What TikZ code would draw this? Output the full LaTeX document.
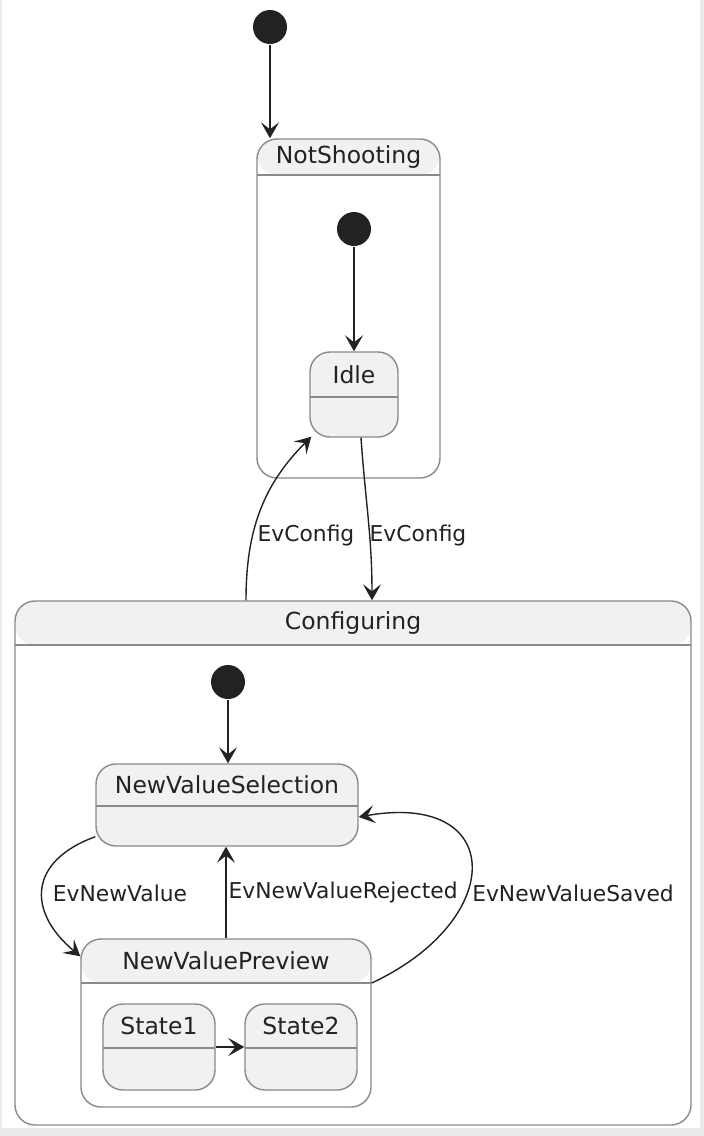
\documentclass[tikz,border=0pt]{standalone}
\usepackage{fontspec}
\setmainfont{DejaVu Sans}
\usetikzlibrary{arrows.meta}
\definecolor{edgegray}{HTML}{8A8A8A}
\definecolor{statefill}{HTML}{F1F1F1}
\definecolor{ink}{HTML}{222222}
\definecolor{framegray}{HTML}{EBEBEB}

\begin{document}
\begin{tikzpicture}[x=1pt,y=-1pt,line width=1.4pt,
  hdr/.style={path picture={
    \fill[statefill] (path picture bounding box.north west)
      rectangle ([yshift=-#1]path picture bounding box.north east);
    \draw[edgegray,line width=1.4pt] ([yshift=-#1]path picture bounding box.north west)
      -- ([yshift=-#1]path picture bounding box.north east);}}]
  \tikzstyle{init}=[circle,fill=ink,draw=none,minimum size=34pt,inner sep=0pt]
  \tikzstyle{simple}=[draw=edgegray,fill=statefill,rounded corners=20pt,inner sep=0pt]
  \tikzstyle{composite}=[draw=edgegray,fill=white,rounded corners=20pt,inner sep=0pt]
  \tikzstyle{title}=[font=\fontsize{23.5}{28}\selectfont,text=ink]
  \tikzstyle{evlabel}=[font=\fontsize{21.8}{26}\selectfont,text=ink,inner sep=2pt]
  \tikzstyle{trans}=[-{Stealth[length=16pt,width=18pt,inset=7pt]},draw=ink]

  % page frame
  \fill[framegray] (0,0) rectangle (704,1136);
  \fill[white] (2,0) rectangle (700,1128);
  \useasboundingbox (0,0) rectangle (704,1136);

  % NotShooting
  \node[init] (start) at (270,27) {};
  \node[composite,hdr=36pt,minimum width=183pt,minimum height=339pt] (notshoot) at (348.5,308.5) {};
  \node[title] (notshoottxt) at (348.5,157) {NotShooting};
  \node[init] (nsinit) at (354,229) {};
  \node[simple,hdr=45pt,minimum width=88pt,minimum height=85pt] (idle) at (354,394.5) {};
  \node[title] (idletxt) at (354,374.5) {Idle};

  % Configuring
  \node[composite,hdr=44pt,minimum width=676pt,minimum height=524pt] (config) at (353,863) {};
  \node[title] (configtxt) at (353,623) {Configuring};
  \node[init] (cfinit) at (228,682) {};
  \node[simple,hdr=42pt,minimum width=262pt,minimum height=82pt] (nvs) at (227,805) {};
  \node[title] (nvstxt) at (227,785) {NewValueSelection};
  \node[composite,hdr=44pt,minimum width=290pt,minimum height=168pt] (nvp) at (226,1023) {};
  \node[title] (nvptxt) at (226,961) {NewValuePreview};
  \node[simple,hdr=44pt,minimum width=112pt,minimum height=86pt] (state1) at (159,1047) {};
  \node[title] (state1txt) at (159,1026) {State1};
  \node[simple,hdr=44pt,minimum width=112pt,minimum height=86pt] (state2) at (301,1047) {};
  \node[title] (state2txt) at (301,1026) {State2};

  % transitions
  \draw[trans] (start) -- (start |- notshoot.north);
  \draw[trans] (nsinit) -- (idle);
  \draw[trans] ([xshift=-107pt]config.north) to[out=90,in=-135] ([shift={(2,-1)}]idle.south west);
  \draw[trans] ([xshift=7pt]idle.south) to[out=-86,in=90] ([xshift=19pt]config.north);
  \node[evlabel] (cfgup) at (306,535) {EvConfig};
  \node[evlabel] (cfgdown) at (418,535) {EvConfig};

  \draw[trans] (cfinit) -- (cfinit |- nvs.north);
  \draw[trans] ([yshift=10pt]nvs.south west) to[out=200,in=140,looseness=1.5] ([yshift=-18pt]nvp.north west);
  \node[evlabel] (newval) at (120,893) {EvNewValue};
  \draw[trans] (nvp.north) -- (nvp.north |- nvs.south)
    node[evlabel,midway,right] (rejected) {EvNewValueRejected};
  \draw[trans] ([yshift=40pt]nvp.east) to[out=25,in=10,looseness=2.3] ([yshift=-12pt]nvs.east);
  \node[evlabel] (saved) at (573,893) {EvNewValueSaved};
  \draw[trans] (state1) -- (state2);
\end{tikzpicture}
\end{document}
